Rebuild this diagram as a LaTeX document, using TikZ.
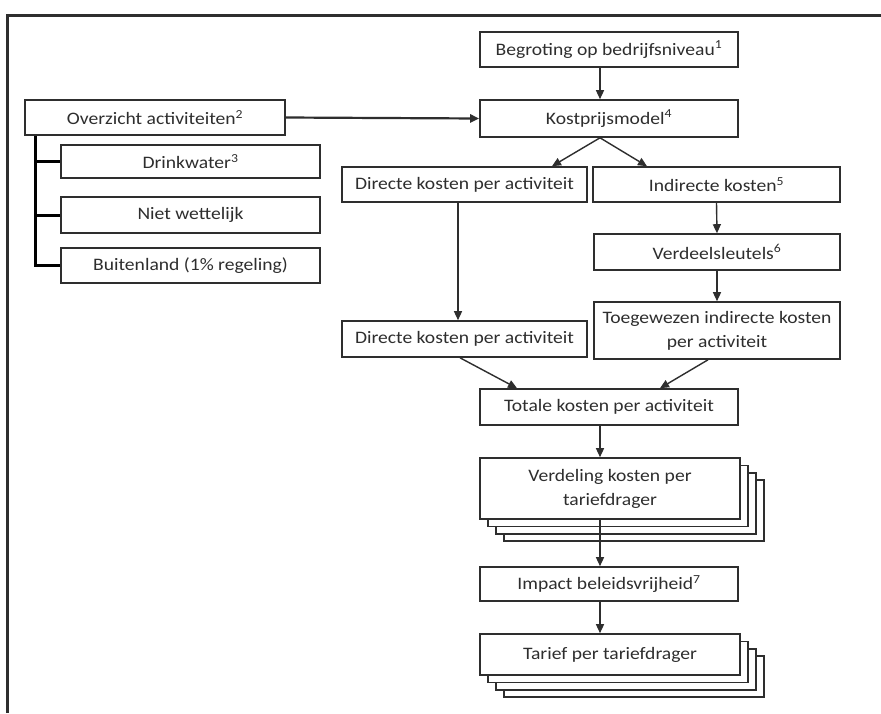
\documentclass[tikz,border=0pt]{standalone}
\usepackage{fontspec}
\setmainfont{Carlito}[FakeStretch=1.12]
\usetikzlibrary{arrows.meta,shadows}
\definecolor{ink}{HTML}{2E2E2E}
\begin{document}
\begin{tikzpicture}[x=1pt,y=-1pt,
  box/.style={draw=ink,line width=1.6pt,fill=white,text=ink,inner sep=2pt,
    font=\fontsize{17.5}{24}\selectfont,align=center},
  arr/.style={draw=ink,line width=1.4pt,-{Triangle[length=9pt,width=8pt]}},
  tree/.style={draw=black,line width=3pt},
  stack/.style={
    copy shadow={shadow xshift=24pt,shadow yshift=-22pt,draw=ink,fill=white,line width=1.6pt},
    copy shadow={shadow xshift=16pt,shadow yshift=-15pt,draw=ink,fill=white,line width=1.6pt},
    copy shadow={shadow xshift=8pt,shadow yshift=-7.5pt,draw=ink,fill=white,line width=1.6pt}}]
\useasboundingbox (0,0) rectangle (881,713);
\fill[white] (0,0) rectangle (881,713);
% frame
\draw[ink,line width=3pt] (7,713) -- (7,15) -- (881,15);
% helper coordinates
\coordinate (axis) at (600,0);
\coordinate (xKL) at (552,0);
\coordinate (xKR) at (647,0);
\coordinate (xD) at (458,0);
\coordinate (xDb) at (460,0);
\coordinate (xT1) at (517,0);
\coordinate (xTg) at (708,0);
\coordinate (xT2) at (660,0);
\coordinate (trunk) at (35,0);
% nodes
\node[box,minimum width=258pt,minimum height=35pt] (beg) at (609,49.5) {Begroting op bedrijfsniveau\textsuperscript{1}};
\node[box,minimum width=258pt,minimum height=37pt] (kost) at (609,118.5) {Kostprijsmodel\textsuperscript{4}};
\node[box,minimum width=260pt,minimum height=35pt] (ov) at (155,117.5) {Overzicht activiteiten\textsuperscript{2}};
\node[box,minimum width=259pt,minimum height=33pt] (dw) at (190.5,161.5) {Drinkwater\textsuperscript{3}};
\node[box,minimum width=259pt,minimum height=36pt] (nw) at (190.5,215) {Niet wettelijk};
\node[box,minimum width=259pt,minimum height=35pt] (bl) at (190.5,265.5) {Buitenland (1\% regeling)};
\node[box,minimum width=245pt,minimum height=35pt] (dk1) at (464.5,184.5) {Directe kosten per activiteit};
\node[box,minimum width=247pt,minimum height=35pt] (ik) at (716.5,184.5) {Indirecte kosten\textsuperscript{5}};
\node[box,minimum width=246pt,minimum height=36pt] (vs) at (717,252) {Verdeelsleutels\textsuperscript{6}};
\node[box,minimum width=246pt,minimum height=57pt] (tg) at (717,330.5) {Toegewezen indirecte kosten\\per activiteit};
\node[box,minimum width=245pt,minimum height=36pt] (dk2) at (464.5,339) {Directe kosten per activiteit};
\node[box,minimum width=258pt,minimum height=36pt] (tot) at (609,407) {Totale kosten per activiteit};
\node[box,stack,minimum width=260pt,minimum height=61pt] (ver) at (610,488.5) {Verdeling kosten per\\tariefdrager};
\node[box,minimum width=258pt,minimum height=34pt] (imp) at (609,584) {Impact beleidsvrijheid\textsuperscript{7}};
\node[box,stack,minimum width=260pt,minimum height=41pt] (tar) at (610,654.5) {Tarief per tariefdrager};
% tree
\draw[tree] (ov.south -| trunk) |- (bl.west);
\draw[tree] (dw.west -| trunk) -- (dw.west);
\draw[tree] (nw.west -| trunk) -- (nw.west);
% connectors
\draw[arr,line width=2.2pt] (ov.east) -- (kost.west);
\draw[arr] (beg.south -| axis) -- (kost.north -| axis);
\draw[arr] (kost.south -| axis) -- (dk1.north -| xKL);
\draw[arr] (kost.south -| axis) -- (ik.north -| xKR);
\draw[arr] (dk1.south -| xD) -- (dk2.north -| xD);
\draw[arr] (ik.south) -- (vs.north);
\draw[arr] (vs.south) -- (tg.north);
\draw[arr] (dk2.south -| xDb) -- (tot.north -| xT1);
\draw[arr] (tg.south -| xTg) -- (tot.north -| xT2);
\draw[arr] (tot.south -| axis) -- (ver.north -| axis);
\draw[arr] (ver.south -| axis) -- (imp.north -| axis);
\draw[arr] (imp.south -| axis) -- (tar.north -| axis);
\end{tikzpicture}
\end{document}
